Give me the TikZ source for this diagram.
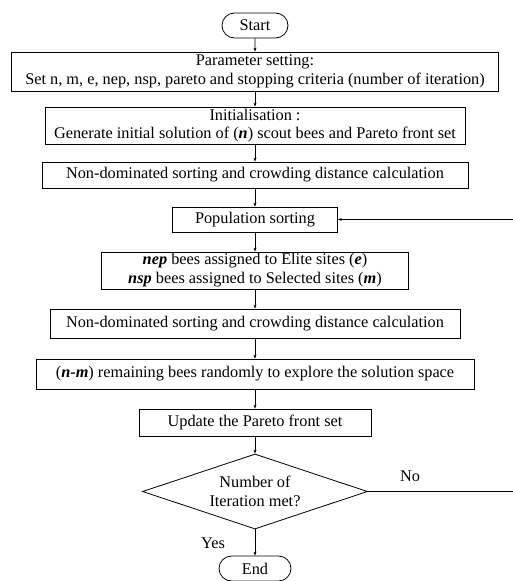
\documentclass[tikz,border=0pt]{standalone}
\usepackage{fontspec}
\setmainfont{Liberation Serif}
\usetikzlibrary{shapes.geometric,shapes.misc,arrows.meta}
\begin{document}
\begin{tikzpicture}[x=1pt,y=-1pt,
  every node/.style={font=\fontsize{16.3}{18.8}\selectfont, align=center, inner sep=0pt},
  box/.style={draw, line width=0.8pt, minimum height=#1},
  term/.style={draw, line width=0.8pt, rounded rectangle, minimum width=66, minimum height=25},
  dec/.style={draw, line width=0.8pt, diamond, aspect=3, inner sep=0pt, minimum width=225, minimum height=75},
  conn/.style={line width=0.8pt, -{Stealth[length=4pt,width=3pt]}},
  plain/.style={line width=0.8pt}]
\useasboundingbox (0,0) rectangle (513,581);
\node[term] (start) at (255,25.5) {Start};
\node[box=39, minimum width=487] (param) at (255,71.5) {Parameter setting:\\Set n, m, e, nep, nsp, pareto and stopping criteria (number of iteration)};
\node[box=37, minimum width=420] (init) at (255,125.5) {Initialisation :\\Generate initial solution of (\textbf{\textit{n}}) scout bees and Pareto front set};
\node[box=26, minimum width=426] (nd1) at (255,175) {Non-dominated sorting and crowding distance calculation};
\node[box=25, minimum width=165] (pop) at (255,219.5) {Population sorting};
\node[box=37, minimum width=307] (nep) at (255,270.5) {\textbf{\textit{nep}} bees assigned to Elite sites (\textbf{\textit{e}})\\\textbf{\textit{nsp}} bees assigned to Selected sites (\textbf{\textit{m}})};
\node[box=29, minimum width=410] (nd2) at (255,323.5) {Non-dominated sorting and crowding distance calculation};
\node[box=30, minimum width=438] (nm) at (255,374) {(\textbf{\textit{n-m}}) remaining bees randomly to explore the solution space};
\node[box=27, minimum width=232] (upd) at (255,422.5) {Update the Pareto front set};
\node[dec] (cond) at (255,491.5) {Number of\\Iteration met?};
\node[term, minimum width=72] (end) at (255,568.5) {End};
\node (yes) at (213,543) {Yes};
\node (no) at (410,476) {No};
\coordinate (r1) at (513,491.5);
\coordinate (r2) at (513,219.5);
\draw[conn] (start) -- (param);
\draw[conn] (param) -- (init);
\draw[conn] (init) -- (nd1);
\draw[conn] (nd1) -- (pop);
\draw[conn] (pop) -- (nep);
\draw[conn] (nep) -- (nd2);
\draw[conn] (nd2) -- (nm);
\draw[conn] (nm) -- (upd);
\draw[conn] (upd) -- (cond);
\draw[conn] (cond) -- (end);
\draw[plain] (cond.east) -- (r1);
\draw[conn] (r2) -- (pop.east);
\end{tikzpicture}
\end{document}
